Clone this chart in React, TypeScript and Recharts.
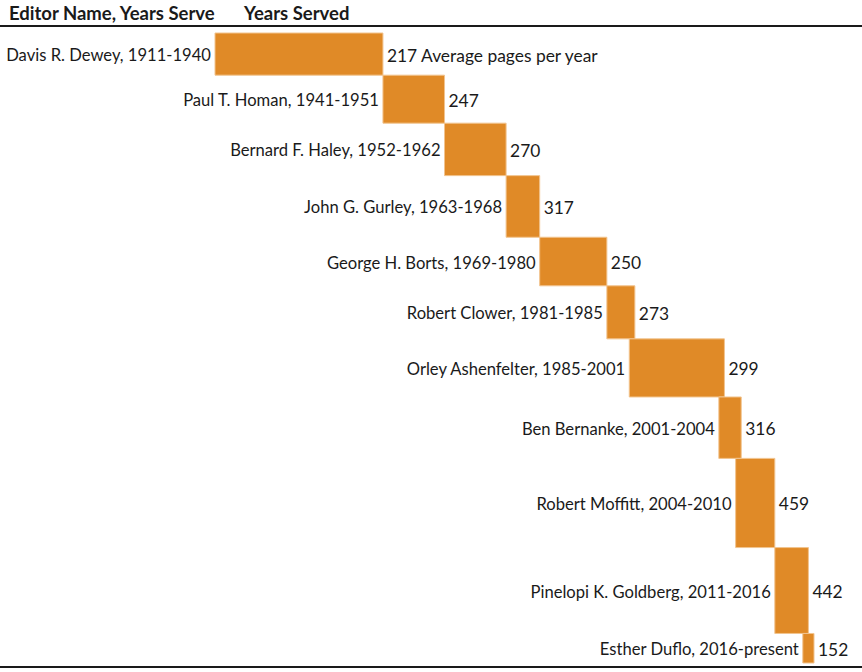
import { ComposedChart, XAxis, YAxis, ReferenceArea, Scatter } from 'recharts'

const editors = [
  'Davis R. Dewey',
  'Paul T. Homan',
  'Bernard F. Haley',
  'John G. Gurley',
  'George H. Borts',
  'Robert Clower',
  'Orley Ashenfelter',
  'Ben Bernanke',
  'Robert Moffitt',
  'Pinelopi K. Goldberg',
  'Esther Duflo',
]
const startYears = [1911, 1941, 1952, 1963, 1969, 1981, 1985, 2001, 2004, 2011, 2016]
const endYears = [1940, 1951, 1962, 1968, 1980, 1985, 2001, 2004, 2010, 2016, 2017]
const endLabels = ['1940', '1951', '1962', '1968', '1980', '1985', '2001', '2004', '2010', '2016', 'present']
const pagesPerYear = [217, 247, 270, 317, 250, 273, 299, 316, 459, 442, 152]

const BAR_COLOR = '#E08A27'
const FONT = 'Lato, "Noto Sans", sans-serif'

// stack rows by pages, each row's height is its value
let acc = 0
const rows = editors.map((name, i) => {
  const top = acc
  acc += pagesPerYear[i]
  return {
    name,
    start: startYears[i],
    end: endYears[i] + 1,
    top,
    bottom: acc,
    mid: (top + acc) / 2,
    value: pagesPerYear[i],
    label: `${name}, ${startYears[i]}-${endLabels[i]}`,
  }
})
const total = acc

const leftPoints = rows.map((r) => ({ x: r.start, y: r.mid, text: r.label }))
const rightPoints = rows.map((r, i) => ({
  x: r.end,
  y: r.mid,
  text: i === 0 ? `${r.value} Average pages per year` : `${r.value}`,
}))

const LeftLabel = (props: any) => (
  <text x={props.cx - 4} y={props.cy + 1} textAnchor="end" dominantBaseline="central"
    fontFamily={FONT} fontSize={16.6} fill="#1a1a1a">
    {props.payload.text}
  </text>
)

const RightLabel = (props: any) => (
  <text x={props.cx + 4} y={props.cy + 1} textAnchor="start" dominantBaseline="central"
    fontFamily={FONT} fontSize={17.4} fill="#1a1a1a">
    {props.payload.text}
  </text>
)

export default function App() {
  return (
    <div style={{ position: 'absolute', left: 0, top: 0, width: 862, height: 672, background: '#fff', fontFamily: FONT }}>
      <div style={{ position: 'absolute', left: 9, top: 2, whiteSpace: 'nowrap', fontWeight: 700, fontSize: 18.5, color: '#1a1a1a' }}>
        Editor Name, Years Serve
      </div>
      <div style={{ position: 'absolute', left: 244, top: 2, whiteSpace: 'nowrap', fontWeight: 700, fontSize: 18.5, color: '#1a1a1a' }}>
        Years Served
      </div>
      <div style={{ position: 'absolute', left: 0, top: 25, width: 862, height: 2, background: '#1a1a1a' }} />
      <div style={{ position: 'absolute', left: 0, top: 666, width: 862, height: 2, background: '#1a1a1a' }} />
      <div style={{ position: 'absolute', left: 0, top: 0 }}>
        <ComposedChart width={862} height={672} margin={{ top: 33, right: 48, bottom: 9, left: 215 }}>
          <XAxis type="number" dataKey="x" domain={[1911, 2018]} hide />
          <YAxis type="number" dataKey="y" domain={[0, total]} reversed hide />
          {rows.map((r) => (
            <ReferenceArea key={r.name} x1={r.start} x2={r.end} y1={r.top} y2={r.bottom}
              fill={BAR_COLOR} fillOpacity={1} stroke="#F2C48F" strokeWidth={1} ifOverflow="visible" />
          ))}
          <Scatter data={leftPoints} dataKey="y" shape={LeftLabel} isAnimationActive={false} />
          <Scatter data={rightPoints} dataKey="y" shape={RightLabel} isAnimationActive={false} />
        </ComposedChart>
      </div>
    </div>
  )
}
